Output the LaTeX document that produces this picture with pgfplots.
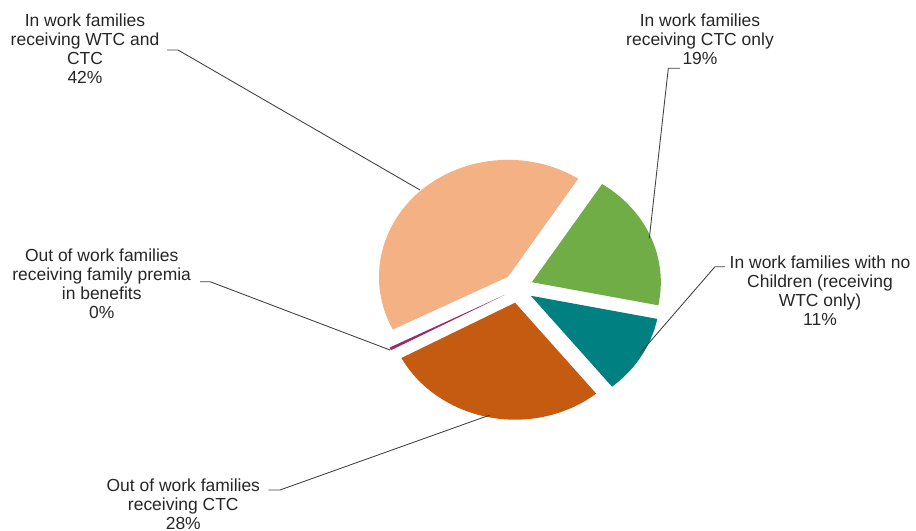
\documentclass[border=0pt]{standalone}
\usepackage{pgfplots}
\pgfplotsset{compat=1.18}
\usepackage{fontspec}
\setmainfont{Liberation Sans}
\definecolor{cLor}{HTML}{F4B183}
\definecolor{cGrn}{HTML}{70AD47}
\definecolor{cTeal}{HTML}{008080}
\definecolor{cDor}{HTML}{C55A11}
\definecolor{cPur}{RGB}{158,42,110}
\definecolor{txt}{HTML}{262626}
% shares (%) in drawing order, clockwise from the first slice
\def\vGrn{19}
\def\vTeal{11}
\def\vDor{28}
\def\vPur{0.4}
\def\vLor{41.6}
\newcommand\slice[3]{%
  \fill[#3] (axis cs:{518+15*cos((#1+#2)/2)},{243+15*sin((#1+#2)/2)})
    -- (axis cs:{518+15*cos((#1+#2)/2)+129*cos(#1)},{243+15*sin((#1+#2)/2)+117*sin(#1)})
    arc[start angle=#1, end angle=#2, x radius=96.75pt, y radius=87.75pt] -- cycle;}
\begin{document}
\begin{tikzpicture}
\pgfmathsetmacro\Aa{57}
\pgfmathsetmacro\Ab{\Aa-3.6*\vGrn}
\pgfmathsetmacro\Ac{\Ab-3.6*\vTeal}
\pgfmathsetmacro\Ad{\Ac-3.6*\vDor}
\pgfmathsetmacro\Ae{\Ad-3.6*\vPur}
\pgfmathsetmacro\Af{\Ae-3.6*\vLor}
\begin{axis}[width=687pt, height=398.25pt, scale only axis,
  xmin=0, xmax=916, ymin=0, ymax=531, hide axis, clip=false]
\coordinate (BL) at (axis cs:0,0);
\coordinate (TR) at (axis cs:916,531);
\slice{\Aa}{\Ab}{cGrn}
\slice{\Ab}{\Ac}{cTeal}
\slice{\Ac}{\Ad}{cDor}
\slice{\Ad}{\Ae}{cPur}
\slice{\Ae}{\Af}{cLor}
\begin{scope}[draw=black!75, line width=0.65pt]
\draw (axis cs:167,481) -- (axis cs:178,481) -- (axis cs:420,341);
\draw (axis cs:680,462.7) -- (axis cs:668.3,462.7) -- (axis cs:649.3,292.7);
\draw (axis cs:725,264.3) -- (axis cs:715,264.3) -- (axis cs:640,177.7);
\draw (axis cs:200,249.3) -- (axis cs:210,249.3) -- (axis cs:390,181);
\draw (axis cs:268.3,41) -- (axis cs:280,41) -- (axis cs:490,116);
\end{scope}
\begin{scope}[every node/.style={align=center, text=txt, inner sep=0pt,
  font=\fontsize{13.1pt}{14.25pt}\selectfont}]
\node at (axis cs:85,482) {In work families\\receiving WTC and\\CTC\\42\%};
\node at (axis cs:700,491.3) {In work families\\receiving CTC only\\19\%};
\node at (axis cs:820,240.3) {In work families with no\\Children (receiving\\WTC only)\\11\%};
\node at (axis cs:101.7,246.8) {Out of work families\\receiving family premia\\in benefits\\0\%};
\node at (axis cs:183.3,27) {Out of work families\\receiving CTC\\28\%};
\end{scope}
\end{axis}
\pgfresetboundingbox
\path (BL) rectangle (TR);
\end{tikzpicture}
\end{document}
